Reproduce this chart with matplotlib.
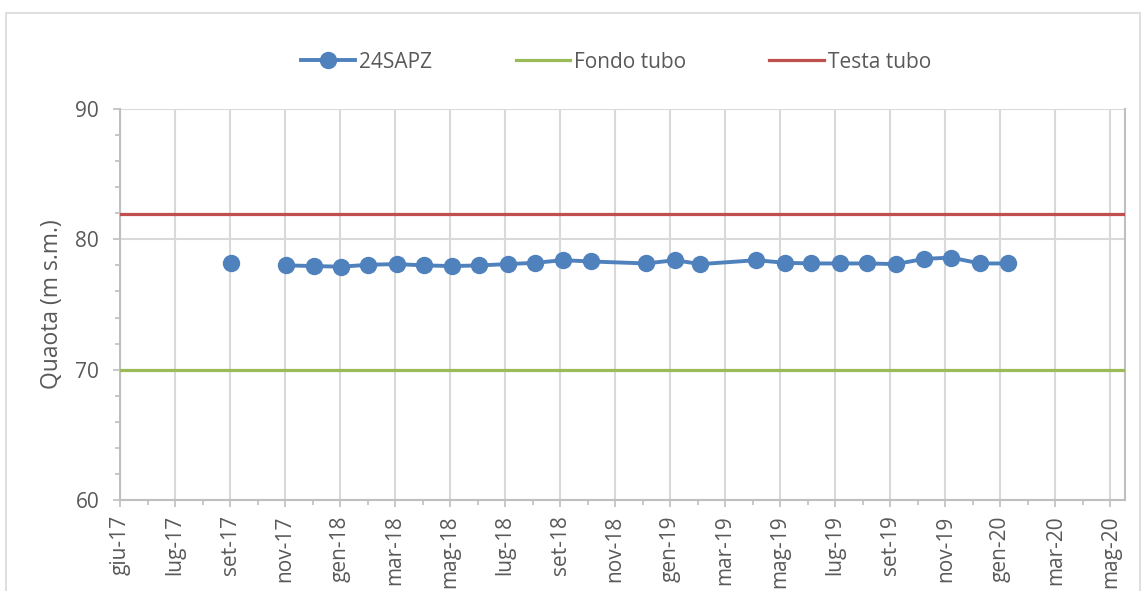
import numpy as np
import pandas as pd
import matplotlib
matplotlib.use("Agg")
import matplotlib.pyplot as plt
import matplotlib.dates as mdates
from matplotlib.ticker import FixedLocator, FuncFormatter, MultipleLocator
from matplotlib.patches import Rectangle

plt.rcParams["font.family"] = ["Open Sans", "DejaVu Sans"]

# ------------------------------------------------------------
# dati
# ------------------------------------------------------------
SERIES_NAME = "24SAPZ"
dates = [
    "2017-09-30", "2017-10-30", "2017-11-29", "2017-12-30", "2018-01-28",
    "2018-02-27", "2018-03-30", "2018-04-29", "2018-05-29", "2018-06-28",
    "2018-07-29", "2018-08-28", "2018-09-27", "2018-10-28", "2018-12-27",
    "2019-01-27", "2019-02-24", "2019-04-26", "2019-05-27", "2019-06-25",
    "2019-07-26", "2019-08-25", "2019-09-25", "2019-10-26", "2019-11-24",
    "2019-12-26", "2020-01-25",
]
quota = [
    78.22, np.nan, 78.0, 77.95, 77.9,
    78.05, 78.1, 78.0, 77.95, 78.0,
    78.1, 78.2, 78.4, 78.3, 78.15,
    78.4, 78.1, 78.4, 78.2, 78.15,
    78.15, 78.15, 78.1, 78.5, 78.6,
    78.15, 78.15,
]
FONDO_TUBO = 70.0
TESTA_TUBO = 81.95

X_START = "2017-06-01"
X_END = "2020-06-01"
TICK_DAYS = 60
MESI = ["gen", "feb", "mar", "apr", "mag", "giu",
        "lug", "ago", "set", "ott", "nov", "dic"]

# ------------------------------------------------------------
# stile
# ------------------------------------------------------------
BLUE = "#4f81bd"
GREEN = "#9bbb59"
RED = "#c0504d"
TEXT = "#595959"
GRID = "#d9d9d9"
AXIS = "#bfbfbf"

x = mdates.date2num(pd.to_datetime(dates))
x0 = mdates.date2num(pd.Timestamp(X_START))
x1 = mdates.date2num(pd.Timestamp(X_END))

fig = plt.figure(figsize=(11.43, 5.91), dpi=100)
ax = fig.add_axes([120 / 1143, 1 - 500 / 591, (1125 - 120) / 1143, (500 - 109) / 591])

# bordo area grafico
fig.patches.append(Rectangle((6 / 1143, -0.01), 1134 / 1143, 1 - 13 / 591 + 0.01,
                             transform=fig.transFigure, fill=False,
                             edgecolor=GRID, linewidth=1.2))

ax.plot(x, quota, color=BLUE, linewidth=2.8, marker="o", markersize=11.5,
        label=SERIES_NAME, zorder=5)
ax.axhline(FONDO_TUBO, color=GREEN, linewidth=2.3, label="Fondo tubo", zorder=4)
ax.axhline(TESTA_TUBO, color=RED, linewidth=2.3, label="Testa tubo", zorder=4)

ax.set_xlim(x0, x1)
ax.set_ylim(60, 90)

major = np.arange(x0, x1 + 1, TICK_DAYS)
minor = np.arange(x0, x1 + 1, TICK_DAYS / 2)
ax.xaxis.set_major_locator(FixedLocator(major))
ax.xaxis.set_minor_locator(FixedLocator(minor))


def fmt_mese(v, pos):
    d = mdates.num2date(v)
    return f"{MESI[d.month - 1]}-{d.year % 100:02d}"


ax.xaxis.set_major_formatter(FuncFormatter(fmt_mese))
ax.yaxis.set_major_locator(MultipleLocator(10))
ax.yaxis.set_minor_locator(MultipleLocator(2))

ax.grid(True, which="major", color=GRID, linewidth=1.5, zorder=0)
ax.set_axisbelow(True)

for side in ["left", "bottom"]:
    ax.spines[side].set_color(AXIS)
    ax.spines[side].set_linewidth(1.5)
ax.spines["top"].set_visible(False)
ax.spines["right"].set_color(AXIS)
ax.spines["right"].set_linewidth(1.5)

ax.tick_params(axis="x", which="major", direction="out", length=5, width=1.2,
               color=AXIS, labelcolor=TEXT, labelsize=15, labelrotation=90, pad=6)
ax.tick_params(axis="x", which="minor", direction="out", length=3.6, width=1.2, color=AXIS)
ax.tick_params(axis="y", which="major", direction="out", length=5, width=1.2,
               color=AXIS, labelcolor=TEXT, labelsize=15, pad=10)
ax.tick_params(axis="y", which="minor", direction="out", length=3.6, width=1.2, color=AXIS)

ax.set_ylabel("Quaota (m s.m.)", color=TEXT, fontsize=16.5)
ax.yaxis.set_label_coords(-0.0557, 0.5)

fig.legend(loc="center", bbox_to_anchor=(616 / 1143, 1 - 62 / 591), ncol=3,
           frameon=False, fontsize=15, handlelength=2.6, columnspacing=4.0,
           handletextpad=0.2, labelcolor=TEXT)

fig.savefig("out.png", dpi=100)
